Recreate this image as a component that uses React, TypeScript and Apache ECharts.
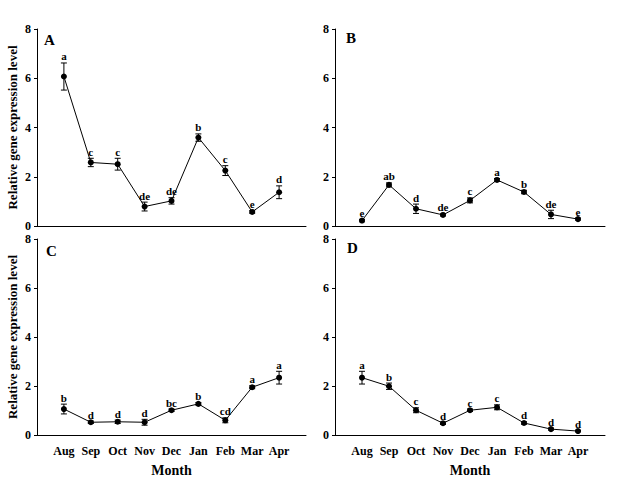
import React, { useEffect, useRef } from "react";
import * as echarts from "echarts";

const months = ["Aug", "Sep", "Oct", "Nov", "Dec", "Jan", "Feb", "Mar", "Apr"];
const yTicks = [0, 2, 4, 6, 8];

const aMean = [6.07, 2.58, 2.51, 0.79, 1.02, 3.59, 2.25, 0.57, 1.37];
const aErr = [0.55, 0.17, 0.24, 0.18, 0.13, 0.15, 0.2, 0.05, 0.26];
const aSig = ["a", "c", "c", "de", "de", "b", "c", "e", "d"];

const bMean = [0.22, 1.67, 0.7, 0.45, 1.04, 1.87, 1.38, 0.47, 0.28];
const bErr = [0.05, 0.08, 0.19, 0.04, 0.1, 0.06, 0.07, 0.17, 0.04];
const bSig = ["e", "ab", "d", "de", "c", "a", "b", "de", "e"];

const cMean = [1.06, 0.52, 0.54, 0.52, 1.01, 1.27, 0.6, 1.95, 2.34];
const cErr = [0.2, 0.05, 0.07, 0.12, 0.05, 0.05, 0.1, 0.06, 0.26];
const cSig = ["b", "d", "d", "d", "bc", "b", "cd", "a", "a"];

const dMean = [2.34, 1.99, 1.01, 0.48, 1.01, 1.13, 0.49, 0.24, 0.16];
const dErr = [0.26, 0.13, 0.1, 0.05, 0.05, 0.1, 0.05, 0.04, 0.03];
const dSig = ["a", "b", "c", "d", "c", "c", "d", "d", "d"];

const panels = [
  { name: "A", mean: aMean, err: aErr, sig: aSig },
  { name: "B", mean: bMean, err: bErr, sig: bSig },
  { name: "C", mean: cMean, err: cErr, sig: cSig },
  { name: "D", mean: dMean, err: dErr, sig: dSig },
];

const FONT = "'Liberation Serif', 'Times New Roman', serif";

export default function App() {
  const ref = useRef<HTMLDivElement>(null);
  useEffect(() => {
    if (!ref.current) return;
    const chart = echarts.init(ref.current, null, { renderer: "svg" });
    const grids = [
      { left: 37, top: 29, width: 269, height: 197 },
      { left: 335, top: 29, width: 270, height: 197 },
      { left: 37, top: 239, width: 269, height: 196 },
      { left: 335, top: 239, width: 270, height: 196 },
    ];
    const xAxis = grids.map((_, i) => ({
      type: "value",
      gridIndex: i,
      min: 0,
      max: 10,
      interval: 1,
      axisLine: { show: true, lineStyle: { color: "#000", width: 1 } },
      axisTick: { show: false },
      splitLine: { show: false },
      axisLabel: {
        show: i >= 2,
        margin: 10,
        fontFamily: FONT,
        fontWeight: "bold",
        fontSize: 12,
        color: "#000",
        formatter: (v: number) => (v >= 1 && v <= 9 ? months[v - 1] : ""),
      },
      name: i >= 2 ? "Month" : "",
      nameLocation: "middle",
      nameGap: 28,
      nameTextStyle: { fontFamily: FONT, fontWeight: "bold", fontSize: 14, color: "#000" },
    }));
    const yAxis = grids.map((_, i) => ({
      type: "value",
      gridIndex: i,
      min: yTicks[0],
      max: yTicks[yTicks.length - 1],
      interval: 2,
      axisLine: { show: true, lineStyle: { color: "#000", width: 1 } },
      axisTick: { show: true, length: 3, lineStyle: { color: "#000" } },
      splitLine: { show: false },
      axisLabel: {
        margin: 6,
        fontFamily: FONT,
        fontWeight: "bold",
        fontSize: 12,
        color: "#000",
      },
      name: i % 2 === 0 ? "Relative gene expression level" : "",
      nameLocation: "middle",
      nameGap: 18,
      nameTextStyle: { fontFamily: FONT, fontWeight: "bold", fontSize: 13, color: "#000" },
    }));
    const series: any[] = [];
    panels.forEach((p, i) => {
      series.push({
        type: "line",
        xAxisIndex: i,
        yAxisIndex: i,
        data: p.mean.map((v, k) => [k + 1, v]),
        symbol: "circle",
        symbolSize: 6,
        itemStyle: { color: "#000" },
        lineStyle: { color: "#000", width: 1 },
        z: 3,
      });
      series.push({
        type: "custom",
        xAxisIndex: i,
        yAxisIndex: i,
        data: p.mean.map((v, k) => [k + 1, v, p.err[k], k]),
        z: 4,
        renderItem: (params: any, api: any) => {
          const x = api.value(0);
          const m = api.value(1);
          const e = api.value(2);
          const k = api.value(3);
          const top = api.coord([x, m + e]);
          const bot = api.coord([x, m - e]);
          const cap = 3;
          const st = { stroke: "#000", lineWidth: 1 };
          return {
            type: "group",
            children: [
              { type: "line", shape: { x1: top[0], y1: top[1], x2: bot[0], y2: bot[1] }, style: st },
              { type: "line", shape: { x1: top[0] - cap, y1: top[1], x2: top[0] + cap, y2: top[1] }, style: st },
              { type: "line", shape: { x1: bot[0] - cap, y1: bot[1], x2: bot[0] + cap, y2: bot[1] }, style: st },
              {
                type: "text",
                x: top[0],
                y: top[1] - 1,
                style: {
                  text: p.sig[k],
                  align: "center",
                  verticalAlign: "bottom",
                  font: `bold 11px ${FONT}`,
                  fill: "#000",
                },
              },
            ],
          };
        },
      });
    });
    const labelPos = [
      [44, 40],
      [346, 38],
      [46, 251],
      [347, 248],
    ];
    chart.setOption({
      animation: false,
      backgroundColor: "#fff",
      grid: grids,
      xAxis,
      yAxis,
      series,
      graphic: panels.map((p, i) => ({
        type: "text",
        x: labelPos[i][0],
        y: labelPos[i][1],
        style: {
          text: p.name,
          font: `bold 15px ${FONT}`,
          fill: "#000",
          verticalAlign: "middle",
        },
      })),
    });
    return () => chart.dispose();
  }, []);
  return (
    <div
      ref={ref}
      style={{ position: "fixed", left: 0, top: 0, width: 621, height: 492 }}
    />
  );
}
